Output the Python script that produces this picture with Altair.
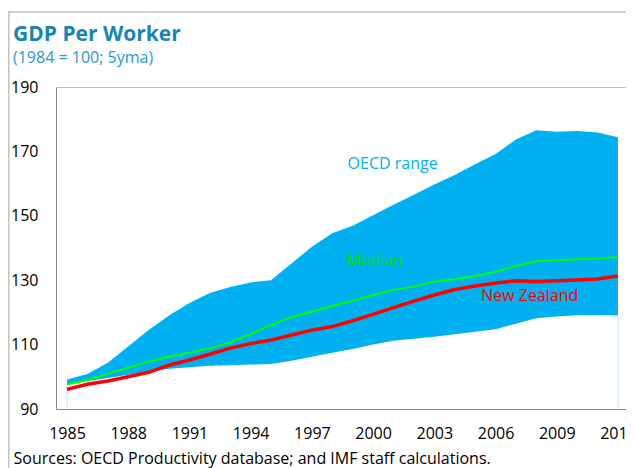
import altair as alt
import pandas as pd

years = list(range(1985, 2013))
oecd_upper = [99.2, 100.9, 104.4, 109.4, 114.5, 119.0, 122.9, 126.0, 127.9, 129.3,
              130.0, 135.2, 140.4, 144.6, 146.9, 150.2, 153.4, 156.5, 159.7, 162.7,
              166.0, 169.2, 173.7, 176.6, 176.1, 176.3, 175.9, 174.4]
oecd_lower = [97.5, 98.6, 99.6, 100.6, 101.6, 102.5, 103.0, 103.4, 103.6, 103.8,
              104.0, 105.0, 106.2, 107.5, 108.6, 110.0, 111.2, 111.8, 112.4, 113.2,
              114.0, 114.8, 116.5, 118.2, 118.7, 119.1, 119.2, 119.0]
median = [97.7, 99.0, 100.9, 102.8, 104.7, 106.3, 107.5, 108.9, 110.7, 113.2,
          116.1, 118.5, 120.2, 122.0, 123.6, 125.4, 127.0, 128.0, 129.5, 130.3,
          131.3, 132.6, 134.4, 135.9, 136.2, 136.5, 136.7, 137.2]
new_zealand = [96.1, 97.7, 98.7, 100.0, 101.4, 103.6, 105.2, 107.0, 108.9, 110.3,
               111.4, 113.0, 114.5, 115.6, 117.4, 119.4, 121.5, 123.5, 125.4, 127.1,
               128.2, 129.1, 129.8, 129.6, 129.8, 130.1, 130.4, 131.3]

x_ticks = [1985, 1988, 1991, 1994, 1997, 2000, 2003, 2006, 2009, 2012]
y_ticks = [90, 110, 130, 150, 170, 190]

label_text = ["OECD range", "Median", "New Zealand"]
label_year = [1998.75, 1998.7, 2005.3]
label_value = [166.1, 136.0, 125.1]
label_color = ["#00B0F0", "#00E000", "#FF0000"]

FONT = "Open Sans"

df = pd.DataFrame({"year": years, "upper": oecd_upper, "lower": oecd_lower,
                   "median": median, "nz": new_zealand})
ends = df[df["year"].isin([years[0], years[-1]])].assign(base=90)
labels = pd.DataFrame({"text": label_text, "year": label_year,
                       "value": label_value, "color": label_color})

xscale = alt.Scale(domain=[1984.461, 2012.393], nice=False, zero=False)
yscale = alt.Scale(domain=[90, 190], nice=False, zero=False)

x_axis = alt.Axis(values=x_ticks, format="d", ticks=False, tickSize=0, grid=False,
                  labelPadding=16, labelFontSize=16, labelColor="#000000",
                  labelFont=FONT, domainColor="#868686", labelFlush=False,
                  title="Sources: OECD Productivity database; and IMF staff calculations.",
                  titleFont=FONT, titleFontSize=16, titleFontWeight="normal",
                  titleColor="#000000", titleAnchor="start", titleAlign="left",
                  titleX=-43, titleY=54, titleBaseline="alphabetic")
y_axis = alt.Axis(values=y_ticks, ticks=False, tickSize=0, grid=False,
                  labelPadding=18, labelFontSize=16, labelColor="#000000",
                  labelFont=FONT, domainColor="#868686", title=None)

base = alt.Chart(df)

band = base.mark_area(color="#00B0F0", opacity=1).encode(
    x=alt.X("year:Q", scale=xscale, axis=x_axis),
    y=alt.Y("lower:Q", scale=yscale, axis=y_axis),
    y2="upper:Q",
)

drops = alt.Chart(ends).mark_rule(color="#BEE6F7", strokeWidth=1).encode(
    x="year:Q", y="base:Q", y2="lower:Q"
)

med_line = base.mark_line(color="#00FF00", strokeWidth=2).encode(
    x="year:Q", y="median:Q"
)
nz_line = base.mark_line(color="#FF0000", strokeWidth=3.5).encode(
    x="year:Q", y="nz:Q"
)

texts = alt.Chart(labels).mark_text(align="left", baseline="middle",
                                    font=FONT, fontSize=16).encode(
    x="year:Q", y="value:Q", text="text:N",
    color=alt.Color("color:N", scale=None),
)

frame_data = alt.Data(values=[{}])
frame_left = alt.Chart(frame_data).mark_rule(color="#C0C0C0", strokeWidth=1.5).encode(
    x=alt.value(-47.2), y=alt.value(-75), y2=alt.value(400)
)
frame_top = alt.Chart(frame_data).mark_rule(color="#C0C0C0", strokeWidth=1.5).encode(
    x=alt.value(-48), x2=alt.value(600), y=alt.value(-75)
)

chart = alt.layer(band, drops, med_line, nz_line, texts, frame_left, frame_top).properties(
    width=570, height=322,
    autosize=alt.AutoSizeParams(type="none"),
    padding={"left": 48, "top": 79, "right": 0, "bottom": 59},
    title=alt.TitleParams(
        text="GDP Per Worker",
        subtitle="(1984 = 100; 5yma)",
        anchor="start", frame="group", dx=-43, dy=55, offset=0,
        font=FONT, fontSize=21, fontWeight="bold", color="#1A84B8",
        subtitleFont=FONT, subtitleFontSize=16, subtitleColor="#2A98D0",
        subtitlePadding=5,
    ),
).configure_view(stroke="#BFBFBF", strokeWidth=1)

chart.save("out.html", embed_options={"renderer": "svg", "actions": False})
